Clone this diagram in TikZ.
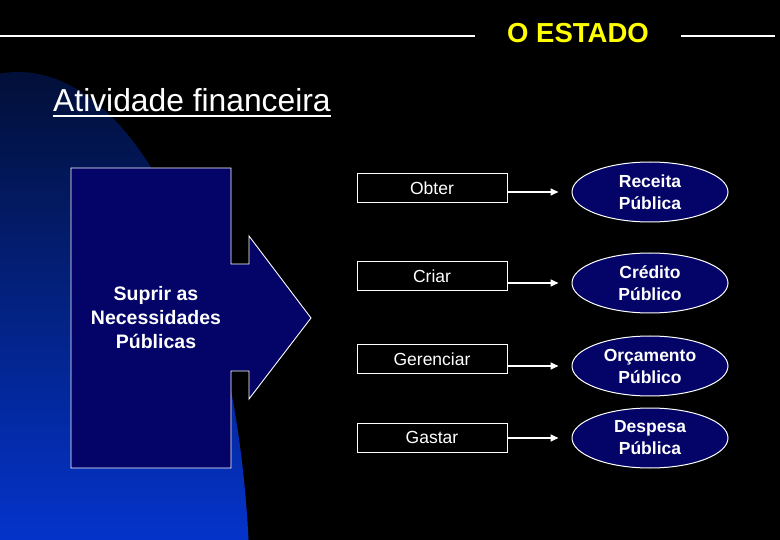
\documentclass[tikz,border=0pt]{standalone}
\usepackage{fontspec}
\setmainfont{Liberation Sans}
\usetikzlibrary{shapes.geometric,arrows.meta}
\definecolor{navy}{RGB}{3,3,104}
\definecolor{blobtop}{RGB}{2,14,52}
\definecolor{blobbot}{RGB}{4,52,204}
\definecolor{titleyellow}{RGB}{255,255,0}
\tikzset{
  actbox/.style={draw=white, line width=1pt, fill=black, minimum width=150pt, minimum height=29pt, inner sep=0pt, text=white, font=\fontsize{17.5}{21}\selectfont},
  resell/.style={ellipse, draw=white, line width=1pt, fill=navy, minimum width=156pt, minimum height=60pt, inner sep=0pt, text=white, align=center, font=\bfseries\fontsize{17.5}{22}\selectfont},
  conn/.style={draw=white, line width=1.6pt, -{Triangle[length=8pt,width=7pt]}},
  rule/.style={draw=white, line width=1.3pt}
}
\begin{document}
\begin{tikzpicture}[x=1pt,y=-1pt]
\useasboundingbox (0,0) rectangle (780,540);
\fill[black] (0,0) rectangle (780,540);
% blue background blob
\begin{scope}
  \clip (18,600) ellipse [x radius=232, y radius=528];
  \shade[top color=blobtop, bottom color=blobbot] (-10,60) rectangle (300,545);
\end{scope}
% top title
\node[text=titleyellow, font=\bfseries\fontsize{27.5}{31}\selectfont, inner sep=0pt] (estado) at (578,33.5) {O ESTADO};
\coordinate (lstart) at (0,36);
\coordinate (rend) at (775,36);
\draw[rule] (lstart) -- (475,36);
\draw[rule] (681,36) -- (rend);
% subtitle
\node[text=white, font=\fontsize{31.8}{36}\selectfont, inner sep=0pt, anchor=base west] (ativ) at (53,112) {Atividade financeira};
\draw[white, line width=2pt] ([yshift=-4.5pt]ativ.base west) -- ([yshift=-4.5pt]ativ.base east);
% big arrow
\draw[white, line width=0.9pt, fill=navy]
  (71,168) -- (231,168) -- (231,264) -- (249,264) -- (249,236) -- (311,318)
  -- (249,399) -- (249,371) -- (231,371) -- (231,468) -- (71,468) -- cycle;
\node[text=white, align=center, font=\bfseries\fontsize{19.5}{24}\selectfont] (suprir) at (156,318) {Suprir as\\Necessidades\\Públicas};
% activity boxes
\node[actbox] (obter) at (432,188.5) {Obter};
\node[actbox] (criar) at (432,276) {Criar};
\node[actbox] (geren) at (432,359.5) {Gerenciar};
\node[actbox] (gastar) at (432,437.5) {Gastar};
% result ellipses
\node[resell] (receita) at (650,192) {Receita\\Pública};
\node[resell] (credito) at (650,283) {Crédito\\Público};
\node[resell] (orcam) at (650,366) {Orçamento\\Público};
\node[resell] (despesa) at (650,438) {Despesa\\Pública};
% connectors
\draw[conn] (obter.east |- receita.west) -- ([xshift=-13pt]receita.west);
\draw[conn] (criar.east |- credito.west) -- ([xshift=-13pt]credito.west);
\draw[conn] (geren.east |- orcam.west) -- ([xshift=-13pt]orcam.west);
\draw[conn] (gastar.east |- despesa.west) -- ([xshift=-13pt]despesa.west);
\end{tikzpicture}
\end{document}
